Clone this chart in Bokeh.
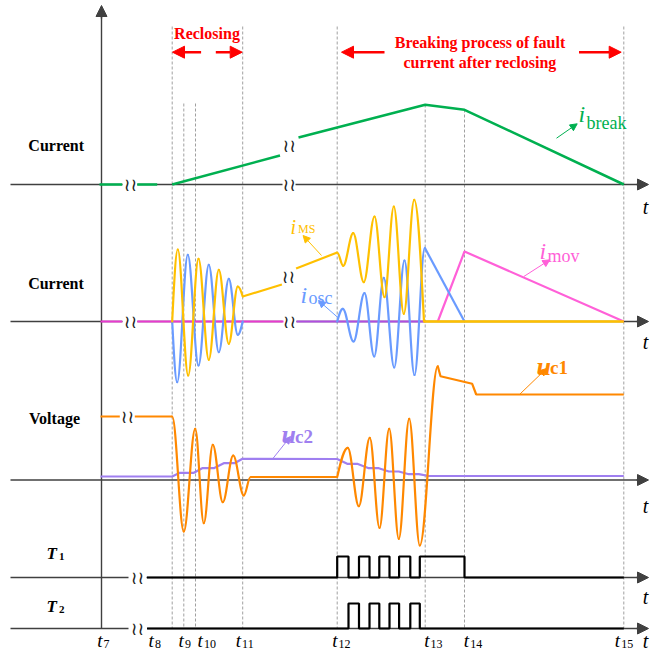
import math
from bokeh.plotting import figure
from bokeh.models import Range1d, Arrow, NormalHead, ColumnDataSource
from bokeh.core.properties import value
from bokeh.embed import file_html
from bokeh.resources import INLINE

# ---------------- data (time axis: t7 = 0, amplitudes relative to each baseline) ----------------
TICK_NAMES = ["7", "8", "9", "10", "11", "12", "13", "14", "15"]
TICK_TIMES = [0, 70.7, 82.3, 94.0, 141.2, 235.7, 323.7, 363.0, 522.3]

# panel 1 : i_break
IBREAK_T = [[-2, 20.7], [35.7, 55.7], [70.7, 178.5], [197, 323.7, 363, 522.3]]
IBREAK_A = [[0, 0], [0, 0], [0, 29], [47, 79.7, 74.7, 0]]

# panel 2 : i_MS, i_osc, i_mov
IMS_OSC1_T = [70.7, 76.3, 86.7, 97.0, 107.3, 117.3, 127.3, 136.3, 141.2]
IMS_OSC1_A = [0, 72, -54, 62.7, -38.3, 51.7, -22.3, 35, 25]
IMS_RAMP_T = [[141.2, 180.4], [194.6, 235.7]]
IMS_RAMP_A = [[25, 37], [53, 69]]
IMS_OSC2_T = [235.7, 241.7, 251.7, 262.3, 273, 283, 292.3, 302.3, 312.7, 322.5]
IMS_OSC2_A = [69, 55.7, 88.3, 39.3, 105, 24.3, 115, 7.7, 121.7, 0]
IMS_TAIL_T = [322.5, 522.3]
IMS_TAIL_A = [0, 0]

IOSC_OSC1_T = [70.7, 75.7, 86.3, 97, 107.3, 117.3, 127.3, 136.3, 141.2]
IOSC_OSC1_A = [0, -60.7, 66.7, -44, 56.7, -30.7, 42.7, -13.3, 0]
IOSC_OSC2_T = [235.7, 241.3, 252, 263, 272.7, 282.3, 292.7, 303, 313, 323.3]
IOSC_OSC2_A = [0, 12.7, -20, 28.3, -35, 43.7, -46, 61, -53.5, 73.7]
IOSC_TAIL_T = [323.3, 363]
IOSC_TAIL_A = [73.7, 0]

IMOV_T = [336.3, 363, 522.3]
IMOV_A = [0, 70, 0]

BASE2_T = [[-1, 20.7], [35.7, 182], [195, 323]]
BASE2_A = [[0, 0], [0, 0], [0, 0]]

# panel 3 : u_c1, u_c2
UC1_FLAT_T = [[-1, 18.3], [33.3, 70.7], [149, 235.7]]
UC1_FLAT_A = [[63.5, 63.5], [63.5, 63.5], [3, 3]]
UC1_OSC1_T = [70.7, 82.3, 93.7, 102.3, 111.3, 121.3, 131.7, 142.3, 149]
UC1_OSC1_A = [63.5, -51.5, 51.2, -43.2, 35.2, -22.2, 24.5, -15.5, 3]
UC1_OSC2_T = [235.7, 246.3, 257.3, 268.3, 278, 287.7, 297.3, 307.7, 318.3, 336.3]
UC1_OSC2_A = [3, 32.2, -26.2, 42.2, -47.8, 51.2, -58.8, 61.2, -65.5, 113.8]
UC1_TAIL_T = [336.3, 339, 370.7, 374.7, 522.3]
UC1_TAIL_A = [113.8, 103.8, 96.2, 85.5, 85.5]

UC2_T = [-1, 70.7, 78.3, 92.3, 100.7, 112.3, 122.3, 133, 141, 235.7, 245.7, 255.7,
         267.3, 277.3, 287.3, 297.3, 307.3, 317.3, 327.3, 522.3]
UC2_A = [3.5, 3.5, 7.2, 7.2, 11.8, 11.8, 16.8, 16.8, 21.2, 21, 16.2, 16.2,
         11.8, 11.8, 8.5, 8.5, 5.8, 5.8, 4, 4]

# gate signals T1 / T2
T_EDGES = [45.5, 235.7, 247, 257.5, 268, 277.8, 288, 297.6, 308.8, 318.3, 363, 522.3]
T1_LEVEL = [0, 1, 0, 1, 0, 1, 0, 1, 0, 1, 0]
T2_LEVEL = [0, 0, 1, 0, 1, 0, 1, 0, 1, 0, 0]
T1_HIGH = 21
T2_HIGH = 25

# ---------------- layout ----------------
W, H = 650, 648
AX_X = 101              # y-axis position (t7)
BASE = {"p1": 184, "p2": 321, "p3": 479.5, "g1": 577, "g2": 628}
B = BASE

FONT = value("Liberation Serif")
AXC = "#404040"
GREEN = "#00b050"
YELLOW = "#ffc000"
BLUE = "#6a9bff"
PINK = "#ff60d8"
MAGENTA = "#e83ad0"
PURPLE_BASE = "#b04ee0"
ORANGE = "#ff8800"
LAV = "#9f7ff0"
RED = "#ff0000"

p = figure(width=W, height=H, output_backend="svg", toolbar_location=None,
           x_range=Range1d(0, W), y_range=Range1d(H, 0),
           x_axis_location=None, y_axis_location=None, min_border=0,
           outline_line_color=None, background_fill_color="white",
           border_fill_color="white")
p.grid.visible = False
p.extra_x_ranges = {"t": Range1d(-AX_X, W - AX_X)}
p.extra_y_ranges = {k: Range1d(b - H, b) for k, b in BASE.items()}


def wave_beziers(ts, amps, kinds, k=0.36):
    out = dict(x0=[], y0=[], x1=[], y1=[], cx0=[], cy0=[], cx1=[], cy1=[])

    def slope(i):
        kd = kinds[i]
        if kd == "s":
            return math.pi / 2 * (amps[i + 1] - amps[i]) / (ts[i + 1] - ts[i])
        if kd == "f":
            return math.pi / 2 * (amps[i] - amps[i - 1]) / (ts[i] - ts[i - 1])
        return 0.0

    for i in range(len(ts) - 1):
        dx = ts[i + 1] - ts[i]
        s0, s1 = slope(i), slope(i + 1)
        out["x0"].append(ts[i]); out["y0"].append(amps[i])
        out["x1"].append(ts[i + 1]); out["y1"].append(amps[i + 1])
        out["cx0"].append(ts[i] + k * dx); out["cy0"].append(amps[i] + s0 * k * dx)
        out["cx1"].append(ts[i + 1] - k * dx); out["cy1"].append(amps[i + 1] - s1 * k * dx)
    return ColumnDataSource(out)


def wave(ts, amps, kinds, panel, color, lw=2.2):
    p.bezier(x0="x0", y0="y0", x1="x1", y1="y1", cx0="cx0", cy0="cy0", cx1="cx1", cy1="cy1",
             source=wave_beziers(ts, amps, kinds), x_range_name="t", y_range_name=panel,
             line_color=color, line_width=lw, line_cap="round")


def steps(edges, levels, high):
    xs, ys = [], []
    for i, lv in enumerate(levels):
        xs += [edges[i], edges[i + 1]]
        ys += [lv * high, lv * high]
    return xs, ys


# dashed time markers
dash_tops = [26, 103, 103, 26, 26, 104, 109, 26]
p.segment(x0=TICK_TIMES[1:], y0=dash_tops, x1=TICK_TIMES[1:], y1=[B["g2"]] * 8,
          x_range_name="t", line_color="#a0a0a0", line_width=1, line_dash="3 2")

# axes
ax_segs = [
    (10, 122, B["p1"]), (137, 282, B["p1"]), (295, 640, B["p1"]),
    (10, 122, B["p2"]), (137, 282, B["p2"]), (296, 640, B["p2"]),
    (10, 640, B["p3"]),
    (10, 128, B["g1"]), (146, 640, B["g1"]),
    (10, 128, B["g2"]), (147, 640, B["g2"]),
]
p.segment(x0=[s[0] for s in ax_segs], y0=[s[2] for s in ax_segs],
          x1=[s[1] for s in ax_segs], y1=[s[2] for s in ax_segs],
          line_color=AXC, line_width=1.4)
p.segment(x0=[AX_X], y0=[B["g2"]], x1=[AX_X], y1=[14], line_color=AXC, line_width=1.4)
for b in BASE.values():
    p.add_layout(Arrow(end=NormalHead(size=11, fill_color=AXC, line_color=AXC),
                       x_start=636, y_start=b, x_end=648, y_end=b,
                       line_color=AXC, line_width=1.4))
p.add_layout(Arrow(end=NormalHead(size=11, fill_color=AXC, line_color=AXC),
                   x_start=AX_X, y_start=18, x_end=AX_X, y_end=5,
                   line_color=AXC, line_width=1.4))

# panel 1
p.multi_line(xs=IBREAK_T, ys=IBREAK_A, x_range_name="t", y_range_name="p1",
             line_color=GREEN, line_width=2.5)

# panel 2
p.multi_line(xs=BASE2_T[:2], ys=BASE2_A[:2], x_range_name="t", y_range_name="p2",
             line_color=MAGENTA, line_width=2.2)
p.multi_line(xs=BASE2_T[2:], ys=BASE2_A[2:], x_range_name="t", y_range_name="p2",
             line_color=PURPLE_BASE, line_width=2.2)
p.line(IMOV_T, IMOV_A, x_range_name="t", y_range_name="p2", line_color=PINK, line_width=2.2)
wave(IOSC_OSC1_T, IOSC_OSC1_A, "seeeeeeef", "p2", BLUE)
wave(IOSC_OSC2_T, IOSC_OSC2_A, "seeeeeeeee", "p2", BLUE)
p.line(IOSC_TAIL_T, IOSC_TAIL_A, x_range_name="t", y_range_name="p2", line_color=BLUE, line_width=2.2)
wave(IMS_OSC1_T, IMS_OSC1_A, "seeeeeeef", "p2", YELLOW)
p.multi_line(xs=IMS_RAMP_T, ys=IMS_RAMP_A, x_range_name="t", y_range_name="p2",
             line_color=YELLOW, line_width=2.2)
wave(IMS_OSC2_T, IMS_OSC2_A, "eeeeeeeeef", "p2", YELLOW)
p.line(IMS_TAIL_T, IMS_TAIL_A, x_range_name="t", y_range_name="p2", line_color=YELLOW, line_width=2.5)

# panel 3
p.line(UC2_T, UC2_A, x_range_name="t", y_range_name="p3", line_color=LAV, line_width=2.2)
p.multi_line(xs=UC1_FLAT_T, ys=UC1_FLAT_A, x_range_name="t", y_range_name="p3",
             line_color=ORANGE, line_width=2.2)
wave(UC1_OSC1_T, UC1_OSC1_A, "eeeeeeeee", "p3", ORANGE)
wave(UC1_OSC2_T, UC1_OSC2_A, "seeeeeeeee", "p3", ORANGE)
p.line(UC1_TAIL_T, UC1_TAIL_A, x_range_name="t", y_range_name="p3", line_color=ORANGE, line_width=2.2)

# gate signals
g1x, g1y = steps(T_EDGES, T1_LEVEL, T1_HIGH)
g2x, g2y = steps(T_EDGES, T2_LEVEL, T2_HIGH)
p.line(g1x, g1y, x_range_name="t", y_range_name="g1", line_color="black", line_width=2.2)
p.line(g2x, g2y, x_range_name="t", y_range_name="g2", line_color="black", line_width=2.2)

# break symbols
brk_x = [130, 288.7, 288.7, 130, 289, 288, 127, 137, 137]
brk_y = [B["p1"], B["p1"], 145, B["p2"], B["p2"], 276, 416, B["g1"], B["g2"]]
p.text(x=brk_x, y=brk_y, text=["≀≀"] * len(brk_x), text_font=value("DejaVu Sans"),
       text_font_size="18px", text_align="center", text_baseline="middle", text_color="#222222")

# row titles
p.text(x=[55.7, 55.5, 54], y=[145, 282.7, 418.3], text=["Current", "Current", "Voltage"],
       text_font=FONT, text_font_style="bold", text_font_size="16px",
       text_align="center", text_baseline="middle", text_color="black")
p.text(x=[46, 46], y=[B["g1"] - 24, B["g2"] - 22], text=["T", "T"], text_font=FONT,
       text_font_style="bold italic", text_font_size="17px", text_align="left",
       text_baseline="alphabetic", text_color="black")
p.text(x=[58.5, 58.5], y=[B["g1"] - 21, B["g2"] - 19], text=["1", "2"], text_font=FONT,
       text_font_style="bold", text_font_size="11px", text_align="left",
       text_baseline="alphabetic", text_color="black")

# t labels on axes
p.text(x=[645] * 5, y=[206, 341, 505, B["g1"] + 19, 640], text=["t"] * 5, text_font=FONT,
       text_font_style="italic", text_font_size="20px", text_align="center",
       text_baseline="alphabetic", text_color="black")

# tick labels
lab_off = [-4.3, -23.7, -5.3, 2, -7, -5, -1, -0.7, -9]
p.text(x=[t + o for t, o in zip(TICK_TIMES, lab_off)], y=[640] * 9, text=["t"] * 9,
       x_range_name="t", text_font=FONT, text_font_style="italic", text_font_size="19px",
       text_align="left", text_baseline="alphabetic", text_color="black")
p.text(x=[t + o + 6.4 for t, o in zip(TICK_TIMES, lab_off)], y=[643.5] * 9, text=TICK_NAMES,
       x_range_name="t", text_font=FONT, text_font_size="12px",
       text_align="left", text_baseline="alphabetic", text_color="black")

# top annotations
p.text(x=[206.5, 479.5, 479.5], y=[33.3, 41.7, 61.7],
       text=["Reclosing", "Breaking process of fault", "current after reclosing"],
       text_font=FONT, text_font_style="bold", text_font_size="16px",
       text_align="center", text_baseline="middle", text_color=RED)
for xs, xe in [(200.6, 172), (215.3, 241.7), (384, 341), (578.5, 620.7)]:
    p.add_layout(Arrow(end=NormalHead(size=12, fill_color=RED, line_color=RED),
                       x_start=xs, y_start=51.7, x_end=xe, y_end=51.7,
                       line_color=RED, line_width=2.5))


def label(x, y, main, sub, color, msize, ssize, mstyle, sstyle, sdx, sdy):
    p.text(x=[x], y=[y], text=[main], text_font=FONT, text_font_style=mstyle,
           text_font_size=msize, text_align="left", text_baseline="alphabetic", text_color=color)
    p.text(x=[x + sdx], y=[y + sdy], text=[sub], text_font=FONT, text_font_style=sstyle,
           text_font_size=ssize, text_align="left", text_baseline="alphabetic", text_color=color)


def pointer(xs, ys, xe, ye, color):
    p.add_layout(Arrow(end=NormalHead(size=7, fill_color=color, line_color=color),
                       x_start=xs, y_start=ys, x_end=xe, y_end=ye,
                       line_color=color, line_width=1))


label(578, 113, "i", "break", GREEN, "24px", "18px", "italic", "normal", 8, 9)
pointer(556, 137.7, 576.7, 123.3, GREEN)
label(290, 226, "i", "MS", YELLOW, "20px", "12px", "italic", "normal", 7.5, 2.5)
pointer(321, 255, 302.6, 235, YELLOW)
label(300, 294, "i", "osc", BLUE, "24px", "18px", "italic", "normal", 8, 3)
pointer(337, 316.7, 318, 300, BLUE)
label(539, 250, "i", "mov", PINK, "24px", "18px", "italic", "normal", 8, 5)
pointer(523.3, 276, 549.3, 259.3, PINK)
label(536, 366, "u", "c1", ORANGE, "26px", "19px", "bold italic", "bold", 13.5, 1)
pointer(519, 394, 546, 368, ORANGE)
label(281, 434, "u", "c2", LAV, "26px", "19px", "bold italic", "bold", 13.5, 2)
pointer(272, 458.5, 290, 436, LAV)

open("out.html", "w").write(file_html(p, INLINE))
